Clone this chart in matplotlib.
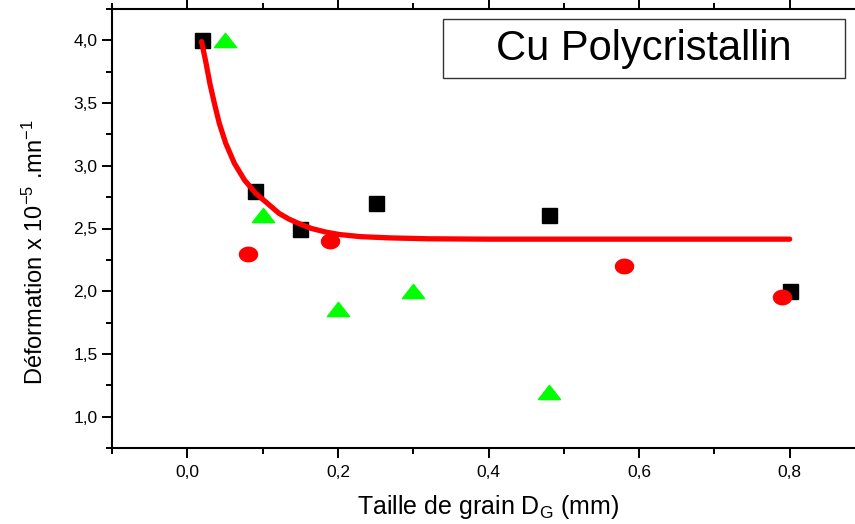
import numpy as np
import matplotlib
matplotlib.use("Agg")
import matplotlib.pyplot as plt
from matplotlib.path import Path
from matplotlib.patches import Rectangle
from matplotlib.ticker import MultipleLocator

plt.rcParams['font.family'] = ['Liberation Sans', 'DejaVu Sans']
plt.rcParams['mathtext.default'] = 'regular'

# series
sq_x = [0.02, 0.09, 0.15, 0.25, 0.48, 0.80]
sq_y = [4.00, 2.80, 2.50, 2.70, 2.61, 2.00]

ci_x = [0.08, 0.19, 0.58, 0.79]
ci_y = [2.30, 2.40, 2.20, 1.95]

tr_x = [0.05, 0.10, 0.20, 0.30, 0.48]
tr_y = [4.00, 2.61, 1.86, 2.00, 1.20]

# fitted decay curve
fit_x = [0.019, 0.025, 0.030, 0.036, 0.0425, 0.051, 0.0625, 0.076, 0.091, 0.109,
         0.122, 0.135, 0.150, 0.165, 0.185, 0.202, 0.230, 0.270, 0.320, 0.400, 0.800]
fit_y = [3.99, 3.815, 3.656, 3.497, 3.338, 3.18, 3.02, 2.886, 2.78, 2.687,
         2.62, 2.575, 2.535, 2.50, 2.47, 2.452, 2.435, 2.425, 2.418, 2.415, 2.415]

xticks = [0.0, 0.2, 0.4, 0.6, 0.8]
xtick_labels = ['0,0', '0,2', '0,4', '0,6', '0,8']
yticks = [1.0, 1.5, 2.0, 2.5, 3.0, 3.5, 4.0]
ytick_labels = ['1,0', '1,5', '2,0', '2,5', '3,0', '3,5', '4,0']

W, H = 855, 524
dpi = 100
fig = plt.figure(figsize=(W / dpi, H / dpi), dpi=dpi)

# axes frame runs past the right edge, like the original
ax = fig.add_axes([112 / W, 1 - 448 / H, (865 - 112) / W, (448 - 9) / H])
ax.set_xlim(-0.1, 0.9)
ax.set_ylim(0.75, 4.25)

# custom marker shapes: flat triangle and slightly squashed circle
tri = Path([(-1, -0.64), (1, -0.64), (0, 0.64), (-1, -0.64)],
           [Path.MOVETO, Path.LINETO, Path.LINETO, Path.CLOSEPOLY])
t = np.linspace(0, 2 * np.pi, 40)
ell = Path(np.column_stack([np.cos(t), 0.8 * np.sin(t)]))

ax.plot(sq_x, sq_y, ls='none', marker='s', ms=10.8, color='black', mec='black', zorder=3)
ax.plot(ci_x, ci_y, ls='none', marker=ell, ms=13, color='#ff0000', mec='#ff0000', zorder=3)
ax.plot(tr_x, tr_y, ls='none', marker=tri, ms=16, color='#00ff00', mec='#00ff00', zorder=3)
ax.plot(fit_x, fit_y, color='#ff0000', lw=3.8, solid_capstyle='round',
        solid_joinstyle='round', zorder=4)

ax.set_xticks(xticks)
ax.set_xticklabels(xtick_labels)
ax.set_yticks(yticks)
ax.set_yticklabels(ytick_labels)
ax.xaxis.set_minor_locator(MultipleLocator(0.1))
ax.yaxis.set_minor_locator(MultipleLocator(0.25))

for s in ax.spines.values():
    s.set_linewidth(1.5)
ax.tick_params(which='both', direction='out', width=1.4, top=True, right=True,
               labeltop=False, labelright=False)
ax.tick_params(which='major', length=7.5, labelsize=12.5, pad=3)
ax.tick_params(which='minor', length=4)
ax.tick_params(axis='x', which='major', pad=5)

fig.text(35 / W, 1 - 252 / H, 'Déformation x 10$^{-5}$ .mn$^{-1}$',
         rotation=90, ha='center', va='center', fontsize=17)
fig.text(488 / W, 1 - 514 / H, 'Taille de grain D$_{G}$ (mm)',
         ha='center', va='baseline', fontsize=18)

fig.patches.append(Rectangle((443 / W, 1 - 78 / H), (845 - 443) / W, (78 - 19) / H,
                             transform=fig.transFigure, fill=False,
                             edgecolor='#333333', lw=1.0))
fig.text(644 / W, 1 - 49 / H, 'Cu Polycristallin', ha='center', va='center',
         fontsize=30)

fig.savefig('out.png', dpi=dpi)
